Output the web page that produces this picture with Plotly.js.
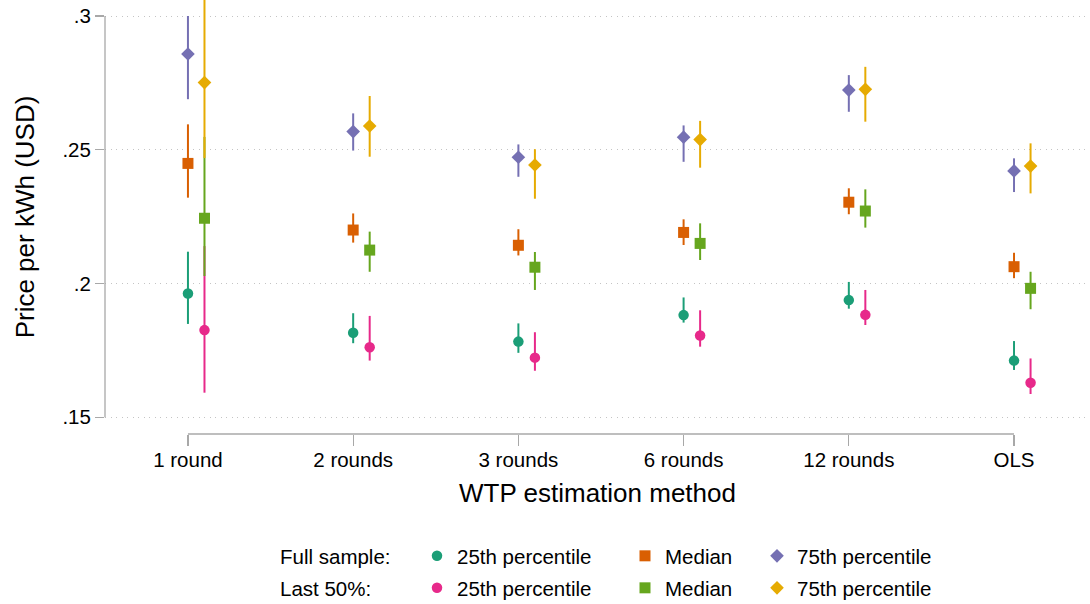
<!DOCTYPE html>
<html><head><meta charset="utf-8">
<script src="https://cdn.plot.ly/plotly-3.0.1.min.js"></script>
<style>html,body{margin:0;padding:0;background:#fff;} #chart{width:1090px;height:604px;}</style>
</head><body><div id="chart"></div>
<script>
const categories = ['1 round','2 rounds','3 rounds','6 rounds','12 rounds','OLS'];
const yTickVals = [0.15, 0.2, 0.25, 0.3];
const yTickText = ['.15', '.2', '.25', '.3'];

// Full sample
const full25    = [0.1963, 0.1816, 0.1783, 0.1882, 0.1938, 0.1712];
const full25Lo  = [0.1849, 0.1777, 0.1741, 0.1854, 0.1906, 0.1677];
const full25Hi  = [0.2119, 0.1889, 0.1851, 0.1948, 0.2006, 0.1785];
const fullMed   = [0.2449, 0.2200, 0.2143, 0.2191, 0.2304, 0.2063];
const fullMedLo = [0.2321, 0.2153, 0.2105, 0.2144, 0.2259, 0.2020];
const fullMedHi = [0.2595, 0.2262, 0.2203, 0.2240, 0.2356, 0.2115];
const full75    = [0.2858, 0.2568, 0.2472, 0.2547, 0.2723, 0.2421];
const full75Lo  = [0.2689, 0.2497, 0.2399, 0.2455, 0.2642, 0.2342];
const full75Hi  = [0.3000, 0.2636, 0.2520, 0.2591, 0.2779, 0.2468];
// Last 50%
const last25    = [0.1826, 0.1762, 0.1723, 0.1806, 0.1883, 0.1629];
const last25Lo  = [0.1592, 0.1712, 0.1674, 0.1764, 0.1845, 0.1587];
const last25Hi  = [0.2140, 0.1879, 0.1818, 0.1900, 0.1976, 0.1720];
const lastMed   = [0.2244, 0.2125, 0.2061, 0.2150, 0.2271, 0.1982];
const lastMedLo = [0.2028, 0.2044, 0.1976, 0.2088, 0.2209, 0.1904];
const lastMedHi = [0.2548, 0.2194, 0.2118, 0.2225, 0.2352, 0.2044];
const last75    = [0.2751, 0.2589, 0.2443, 0.2538, 0.2726, 0.2439];
const last75Lo  = [0.2469, 0.2474, 0.2317, 0.2433, 0.2605, 0.2337];
const last75Hi  = [0.3150, 0.2701, 0.2502, 0.2608, 0.2810, 0.2524];

const FONT = 'Liberation Sans, Arial, Helvetica, sans-serif';
const DODGE = 0.1;
const xFull = categories.map((c, i) => i + 1);
const xLast = categories.map((c, i) => i + 1 + DODGE);

function series(name, x, y, lo, hi, color, symbol, size, legendId) {
  return {
    type: 'scatter', mode: 'markers', name: name, x: x, y: y, legend: legendId,
    marker: {color: color, symbol: symbol, size: size, line: {width: 0}},
    error_y: {type: 'data', symmetric: false,
      array: y.map((v, i) => hi[i] - v), arrayminus: y.map((v, i) => v - lo[i]),
      color: color, thickness: 2, width: 0},
    cliponaxis: true
  };
}

const data = [
  series('25th percentile', xFull, full25, full25Lo, full25Hi, '#1b9e77', 'circle', 10.5, 'legend'),
  series('25th percentile', xLast, last25, last25Lo, last25Hi, '#e7298a', 'circle', 10.5, 'legend2'),
  series('Median', xFull, fullMed, fullMedLo, fullMedHi, '#d95f02', 'square', 11, 'legend3'),
  series('Median', xLast, lastMed, lastMedLo, lastMedHi, '#66a61e', 'square', 11, 'legend4'),
  series('75th percentile', xFull, full75, full75Lo, full75Hi, '#7570b3', 'diamond', 10.5, 'legend5'),
  series('75th percentile', xLast, last75, last75Lo, last75Hi, '#e6ab02', 'diamond', 10.5, 'legend6')
];

const L = 105, PW = 985, PH = 434;
const px2x = p => (p - L) / PW;
const py2y = p => (PH - p) / PH;
function leg(cx, cy) {
  return {x: px2x(cx - 20), y: py2y(cy), xanchor: 'left', yanchor: 'middle',
    orientation: 'v', bgcolor: 'rgba(0,0,0,0)', borderwidth: 0,
    font: {family: FONT, size: 20.5, color: '#000'}, itemsizing: 'trace'};
}
const row1 = 556, row2 = 588;

const layout = {
  width: 1090, height: 604,
  margin: {l: L, r: 0, t: 0, b: 604 - PH, pad: 0, autoexpand: false},
  paper_bgcolor: '#fff', plot_bgcolor: '#fff',
  font: {family: FONT, color: '#000'},
  showlegend: true,
  xaxis: {
    type: 'linear', range: [0.4979, 6.4598],
    tickvals: xFull, ticktext: categories,
    ticks: 'outside', ticklen: 11, tickwidth: 1.3, tickcolor: '#a8a8a8',
    ticklabelstandoff: -4,
    showgrid: false, zeroline: false, showline: false,
    tickfont: {family: FONT, size: 20.5, color: '#000'},
    title: {text: 'WTP estimation method', font: {family: FONT, size: 26, color: '#000'}, standoff: 14}
  },
  yaxis: {
    range: [0.14376, 0.30598],
    tickvals: yTickVals, ticktext: yTickText,
    ticks: 'outside', ticklen: 9, tickwidth: 1.3, tickcolor: '#a8a8a8',
    showgrid: true, gridcolor: '#c4c4c4', gridwidth: 1, griddash: '1px,4.5px',
    zeroline: false, showline: false,
    tickfont: {family: FONT, size: 20.5, color: '#000'},
    title: {text: 'Price per kWh (USD)', font: {family: FONT, size: 26, color: '#000'}, standoff: 20}
  },
  shapes: [
    {type: 'line', xref: 'paper', yref: 'y', x0: 0, x1: 0, y0: yTickVals[0], y1: yTickVals[yTickVals.length - 1],
      line: {color: '#a8a8a8', width: 1.3}, layer: 'above'},
    {type: 'line', xref: 'x', yref: 'paper', x0: xFull[0], x1: xFull[xFull.length - 1], y0: 0, y1: 0,
      line: {color: '#a8a8a8', width: 1.3}, layer: 'above'}
  ],
  annotations: [
    {text: 'Full sample:', xref: 'paper', yref: 'paper', x: px2x(278), y: py2y(row1), xanchor: 'left', yanchor: 'middle',
      showarrow: false, font: {family: FONT, size: 20.5, color: '#000'}},
    {text: 'Last 50%:', xref: 'paper', yref: 'paper', x: px2x(278), y: py2y(row2), xanchor: 'left', yanchor: 'middle',
      showarrow: false, font: {family: FONT, size: 20.5, color: '#000'}}
  ],
  legend: leg(437, row1),
  legend2: leg(437, row2),
  legend3: leg(645, row1),
  legend4: leg(645, row2),
  legend5: leg(777, row1),
  legend6: leg(777, row2)
};

Plotly.newPlot('chart', data, layout, {displayModeBar: false, staticPlot: true});
</script>
</body></html>
